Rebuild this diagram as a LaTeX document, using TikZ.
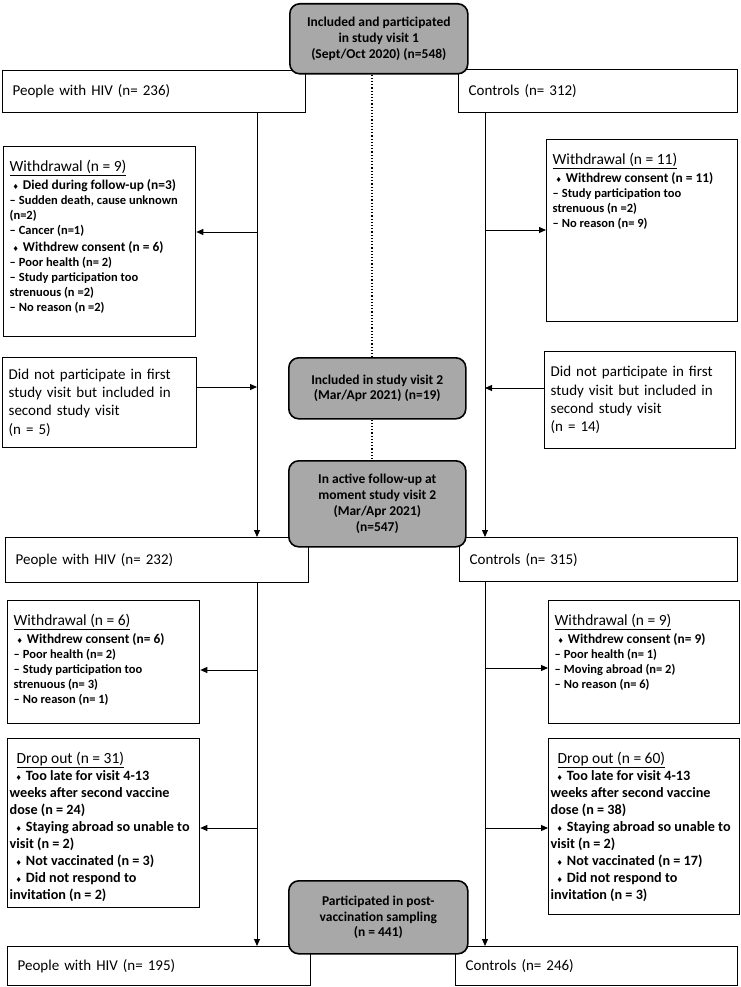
\documentclass[tikz,border=0pt]{standalone}
\usepackage{fontspec}
\setmainfont{Carlito}
\newfontfamily\symfont{DejaVu Sans}
\usepackage{tikz}
\usetikzlibrary{arrows.meta}

\definecolor{boxgrey}{HTML}{A8A8A8}

\newcommand{\txtreg}{\fontsize{15}{18.3}\selectfont}
\newcommand{\txtbold}{\fontsize{13.5}{15.7}\selectfont\bfseries}
\newcommand{\diam}{{\symfont\fontsize{7}{7}\selectfont ♦}}
\newcommand{\whead}[1]{{\fontsize{15.5}{18}\selectfont\rule{0pt}{19pt}\underline{#1}\par}}
\newcommand{\witem}[1]{{\fontsize{13.4}{17.5}\selectfont\bfseries\hspace*{3pt}\diam\hspace{4pt}#1\par}}
\newcommand{\wsub}[1]{{\fontsize{12.5}{15}\selectfont\bfseries –\hspace{3pt}#1\par}}
\newcommand{\dhead}[1]{{\fontsize{15.5}{18}\selectfont\rule{0pt}{19pt}\hspace*{7pt}\underline{#1}\par}}
\newcommand{\ditem}[1]{{\fontsize{14.2}{17}\selectfont\bfseries\hspace*{6pt}\diam\hspace{4pt}#1\par}}
\newcommand{\boxtext}[3]{\parbox[t][#2][t]{#1}{\raggedright #3}}

\tikzset{
  wbox/.style={draw, line width=1.3pt, inner sep=6pt, anchor=north west},
  onebox/.style={wbox, inner xsep=10pt, align=left, font=\txtreg},
  gbox/.style={draw, line width=1.6pt, fill=boxgrey, rounded corners=10pt,
    anchor=north west, align=center, font=\txtbold},
  arr/.style={-{Triangle[length=7pt,width=6pt]}, line width=1pt},
}

\begin{document}
\begin{tikzpicture}[x=1pt, y=-1pt]
  \useasboundingbox (0,0) rectangle (740,987);

  % first row
  \node[onebox, text width=283pt, minimum height=42pt] (p1) at (2,70) {People with HIV (n= 236)};
  \node[onebox, text width=259pt, minimum height=43pt] (c1) at (458,69) {Controls (n= 312)};

  \node[wbox] (wl1) at (3,146) {\boxtext{180pt}{178pt}{%
    \whead{Withdrawal (n = 9)}
    \witem{Died during follow-up (n=3)}
    \wsub{Sudden death, cause unknown\\(n=2)}
    \wsub{Cancer (n=1)}
    \witem{Withdrew consent (n = 6)}
    \wsub{Poor health (n= 2)}
    \wsub{Study participation too\\strenuous (n =2)}
    \wsub{No reason (n =2)}}};
  \node[wbox] (wr1) at (546,139) {\boxtext{179pt}{170pt}{%
    \whead{Withdrawal (n = 11)}
    \witem{Withdrew consent (n = 11)}
    \wsub{Study participation too\\strenuous (n =2)}
    \wsub{No reason (n= 9)}}};

  \node[onebox, inner xsep=6pt, text width=182pt, minimum height=90pt] (nl) at (2,357)
    {Did not participate in first\\study visit but included in\\second study visit\\(n = 5)};
  \node[onebox, inner xsep=6pt, text width=179pt, minimum height=97pt] (nr) at (544,351)
    {Did not participate in first\\study visit but included in\\second study visit\\(n = 14)};

  % second row
  \node[onebox, text width=283pt, minimum height=45pt] (p2) at (5,537) {People with HIV (n= 232)};
  \node[onebox, text width=258pt, minimum height=44pt] (c2) at (459,537) {Controls (n= 315)};

  \node[wbox] (wl2) at (7,600) {\boxtext{180pt}{111pt}{%
    \whead{Withdrawal (n = 6)}
    \witem{Withdrew consent (n= 6)}
    \wsub{Poor health (n= 2)}
    \wsub{Study participation too\\strenuous (n= 3)}
    \wsub{No reason (n= 1)}}};
  \node[wbox] (wr2) at (548,600) {\boxtext{179pt}{111pt}{%
    \whead{Withdrawal (n = 9)}
    \witem{Withdrew consent (n= 9)}
    \wsub{Poor health (n= 1)}
    \wsub{Moving abroad (n= 2)}
    \wsub{No reason (n= 6)}}};

  \node[wbox, inner xsep=2pt] (dl) at (7,738) {\boxtext{188pt}{157pt}{%
    \dhead{Drop out (n = 31)}
    \ditem{Too late for visit 4-13\\weeks after second vaccine\\dose (n = 24)}
    \ditem{Staying abroad so unable~to\\visit (n = 2)}
    \ditem{Not vaccinated (n = 3)}
    \ditem{Did not respond to\\invitation (n = 2)}}};
  \node[wbox, inner xsep=2pt] (dr) at (548,738) {\boxtext{187pt}{164pt}{%
    \dhead{Drop out (n = 60)}
    \ditem{Too late for visit 4-13\\weeks after second vaccine\\dose (n = 38)}
    \ditem{Staying abroad so unable~to\\visit (n = 2)}
    \ditem{Not vaccinated (n = 17)}
    \ditem{Did not respond to\\invitation (n = 3)}}};

  % last row
  \node[onebox, text width=283pt, minimum height=39pt] (p3) at (7,946) {People with HIV (n= 195)};
  \node[onebox, text width=262pt, minimum height=39pt] (c3) at (455,946) {Controls (n= 246)};

  % grey boxes in the middle
  \node[gbox, minimum width=178pt, minimum height=70pt] (v1) at (289,3)
    {Included and participated\\in study visit 1\\(Sept/Oct 2020) (n=548)};
  \node[gbox, minimum width=177pt, minimum height=61pt] (v2) at (288,357)
    {Included in study visit 2\\(Mar/Apr 2021) (n=19)};
  \node[gbox, minimum width=177pt, minimum height=86pt] (v3) at (288,460)
    {In active follow-up at\\moment study visit 2\\(Mar/Apr 2021)\\(n=547)};
  \node[gbox, minimum width=179pt, minimum height=73pt] (v4) at (288,880)
    {Participated in post-\\vaccination sampling\\(n = 441)};

  % connectors
  \coordinate (lx) at (257,0);
  \coordinate (rx) at (485,0);
  \coordinate (dx) at (372,0);

  \draw[arr] (lx |- p1.south) -- (lx |- p2.north);
  \draw[arr] (rx |- c1.south) -- (rx |- c2.north);
  \draw[arr] (lx |- p2.south) -- (lx |- p3.north);
  \draw[arr] (rx |- c2.south) -- (rx |- c3.north);

  \coordinate (a1) at (257,232);
  \coordinate (a2) at (257,670);
  \coordinate (a3) at (257,828);
  \coordinate (b1) at (485,230);
  \coordinate (b2) at (485,668);
  \coordinate (b3) at (485,828);
  \coordinate (a4) at (257,387);
  \coordinate (b4) at (485,388);

  \foreach \c/\b in {a1/wl1, a2/wl2, a3/dl}
    \draw[arr] (\c) -- (\c -| \b.east);
  \foreach \c/\b in {b1/wr1, b2/wr2, b3/dr}
    \draw[arr] (\c) -- (\c -| \b.west);
  \draw[arr] (a4 -| nl.east) -- (a4);
  \draw[arr] (b4 -| nr.west) -- (b4);

  \draw[dotted, line width=1.2pt] (dx |- v1.south) -- (dx |- v2.north);
  \draw[dotted, line width=1.2pt] (dx |- v2.south) -- (dx |- v3.north);
\end{tikzpicture}
\end{document}
